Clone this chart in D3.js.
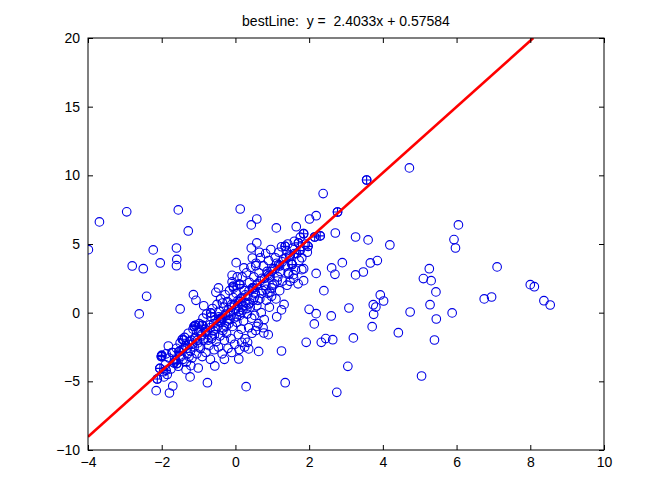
<!DOCTYPE html>
<html><head><meta charset="utf-8">
<script src="https://cdn.jsdelivr.net/npm/d3@7"></script>
<style>
html,body{margin:0;padding:0;background:#fff;}
text{font-family:"Liberation Sans",Arial,sans-serif;white-space:pre;}
</style></head>
<body><svg id="chart" width="672" height="504"></svg>
<script>
const titleText = "bestLine:  y =  2.4033x + 0.57584";
const slope = 2.4033, intercept = 0.57584;
const xTicks = [-4,-2,0,2,4,6,8,10];
const yTicks = [-10,-5,0,5,10,15,20];

// scatter points ('o')
const ptX = [
 -3.69,-2.95,-1.55,0.13,-1.28,0.43,0.58,-3.99,-2.23,-1.60,0.58,0.43,-2.80,-2.50,-2.04,-1.59,-1.60,0.02,0.23,0.46,0.55,-0.09,-0.09,-2.41,-1.14,-0.46,-0.53,
 -1.07,-2.61,-1.50,-1.82,-1.44,-1.53,-2.01,-1.59,-2.05,-2.12,-1.94,-2.15,-1.79,-1.70,-1.23,-1.34,-1.21,-1.01,-0.76,-0.56,0.09,0.29,0.17,0.33,0.10,0.36,0.58,0.63,
 2.38,1.11,1.65,2.01,2.19,2.77,2.71,1.85,2.30,2.15,1.71,1.97,1.75,2.90,2.61,2.70,2.19,1.85,1.80,2.40,2.00,2.19,2.60,2.14,3.08,1.92,2.33,2.45,2.64,1.25,3.05,0.77,0.89,
 4.72,3.56,3.26,3.60,4.19,6.05,5.93,5.97,3.26,3.47,3.66,3.85,5.26,5.10,5.31,5.44,3.93,4.02,3.74,3.81,3.75,4.74,5.28,5.45,5.88,3.71,4.42,5.40,3.20,5.05,
 7.10,6.75,6.95,8.00,8.11,8.37,8.54,1.57,1.48,0.98,2.75,1.35,-2.00,-1.67,-1.08,-0.90,-1.12,-0.67,-0.06,0.12,1.54,1.35,
 -1.95,-1.90,-1.85,-1.80,-1.75,-1.70,-1.65,-1.60,-1.55,-1.50,-1.52,-1.88,
 -1.45,-1.42,-1.38,-1.35,-1.30,-1.28,-1.25,-1.22,-1.18,-1.15,-1.12,-1.10,-1.05,-1.02,-1.00,-1.40,-1.33,-1.20,
 -0.98,-0.95,-0.92,-0.90,-0.88,-0.85,-0.82,-0.80,-0.78,-0.75,-0.72,-0.70,-0.68,-0.65,-0.62,-0.60,-0.58,-0.55,-0.52,-0.50,-0.96,-0.74,-0.66,-0.57,-0.86,
 -0.48,-0.46,-0.44,-0.42,-0.40,-0.38,-0.36,-0.34,-0.32,-0.30,-0.28,-0.26,-0.24,-0.22,-0.20,-0.18,-0.16,-0.14,-0.12,-0.10,-0.08,-0.06,-0.04,-0.02,0.00,-0.45,-0.35,-0.25,-0.15,-0.05,-0.30,-0.10,
 0.02,0.04,0.06,0.08,0.10,0.12,0.14,0.16,0.18,0.20,0.22,0.24,0.26,0.28,0.30,0.32,0.34,0.36,0.38,0.40,0.42,0.44,0.46,0.48,0.50,0.05,0.15,0.25,0.35,0.45,
 0.52,0.54,0.56,0.58,0.60,0.62,0.64,0.66,0.68,0.70,0.72,0.74,0.76,0.78,0.80,0.82,0.84,0.86,0.88,0.90,0.92,0.94,0.96,0.98,0.55,0.75,0.65,
 1.02,1.05,1.08,1.10,1.12,1.15,1.18,1.20,1.22,1.25,1.28,1.30,1.32,1.35,1.38,1.40,1.42,1.45,1.48,1.12,1.25,
 1.52,1.55,1.58,1.60,1.63,1.66,1.70,1.73,1.76,1.80,1.85,1.90,1.95,
 -1.62,-1.48,-1.31,-1.17,-1.03,-0.93,-0.81,-0.69,-0.59,-0.47,-0.37,-0.27,-0.19,-0.11,-0.03,0.07,0.17,0.27,0.37,0.47,0.57,0.67,0.79,0.87,0.97,1.07,1.17,1.27,1.37,1.47,
 -1.72,-1.41,-1.09,-0.77,-0.41,-0.13,0.21,0.51,0.83,1.13,1.43,-0.87,-0.53,-0.21,0.09,0.39,0.71,1.01,-1.26,-0.99,-0.63,-0.33,0.03,0.31,0.61,0.93
];
const ptY = [
 6.61,7.34,7.48,7.55,5.95,6.39,6.82,4.59,4.57,4.71,5.08,4.71,3.40,3.20,3.62,3.88,3.42,3.64,3.26,3.98,3.42,2.72,2.24,1.19,1.31,1.80,1.48,
 0.90,-0.09,0.27,-2.43,-1.94,-2.84,-3.20,-3.71,-4.06,-4.83,-4.68,-5.68,-5.85,-5.34,-4.68,-4.15,-3.86,-4.03,-5.10,-3.88,-3.37,-5.39,-2.16,-2.16,-2.69,-2.64,-1.00,-2.82,
 8.67,6.17,6.26,6.82,7.06,7.33,5.80,5.75,5.59,5.51,5.08,4.83,4.52,3.64,3.26,2.79,2.86,2.33,3.13,1.60,0.24,-0.07,-0.24,-0.82,0.34,-2.16,-2.16,-1.89,-1.97,-2.79,-3.91,-1.48,-1.60,
 10.54,9.66,5.51,5.30,4.93,6.39,5.32,4.71,2.75,2.96,3.62,3.79,3.20,2.48,2.33,1.51,1.29,0.85,0.58,0.41,-0.12,0.05,0.58,-0.46,-0.02,-1.02,-1.46,-1.99,-1.84,-4.61,
 3.33,1.00,1.14,2.04,1.89,0.87,0.56,2.77,2.28,1.19,-5.80,-5.10,-3.11,-3.66,-0.92,-0.92,-1.00,-0.02,1.92,2.04,3.50,4.83,
 -4.3,-3.8,-4.5,-3.3,-4.1,-2.9,-3.4,-2.6,-3.9,-2.2,-3.1,-3.0,
 -2.7,-3.4,-1.8,-2.4,-3.0,-1.5,-2.1,-2.8,-3.3,-1.2,-2.5,-1.9,-3.0,-2.2,-1.4,-2.0,-3.6,-2.0,
 -0.8,-2.6,-1.7,-3.2,-0.4,-2.0,-1.2,-2.9,-0.1,-1.6,-2.4,-0.9,-3.4,-1.9,0.3,-1.3,-2.7,-0.5,-2.1,0.6,-1.3,-2.0,-0.3,-1.6,0.5,
 -1.0,-2.5,0.1,-1.7,1.0,-0.6,-3.0,-1.3,0.4,-2.0,1.3,-0.2,-1.5,0.8,-2.6,-0.8,1.6,0.0,-1.9,0.6,-1.0,1.1,-0.4,-2.3,0.2,-0.3,0.7,-1.0,-0.5,1.8,-3.4,-2.9,
 1.4,-0.7,0.5,-1.6,2.1,-0.2,1.0,-1.2,2.6,0.2,-0.6,1.6,-1.9,0.7,2.9,-0.1,1.2,-1.1,2.2,0.4,3.3,-0.4,1.8,0.9,2.6,2.6,0.0,-2.5,0.6,-1.5,
 -0.2,1.4,3.6,0.5,2.1,-0.8,2.9,1.0,4.0,0.0,2.5,1.6,3.4,-0.5,2.0,4.3,0.9,3.0,1.4,3.8,0.4,2.6,4.6,1.8,-1.3,-1.1,4.4,
 3.2,2.1,4.0,1.0,3.6,2.6,4.4,1.6,3.0,4.8,2.3,3.9,0.6,3.4,4.5,2.0,5.0,2.8,4.1,-0.3,0.2,
 3.6,4.7,2.5,5.2,3.1,4.3,2.1,3.8,5.5,4.0,3.2,5.0,4.4,
 -3.5,-3.2,-2.6,-2.3,-2.0,-1.6,-1.4,-1.1,-0.8,-0.6,-0.4,-0.1,0.2,0.4,0.6,0.9,1.1,1.3,1.6,1.8,2.0,2.3,2.5,2.8,3.0,3.2,3.5,3.7,4.0,4.2,
 -2.9,-2.6,-1.8,-1.3,-0.7,-0.2,0.5,1.1,1.7,2.3,2.9,-1.9,-1.2,-0.6,0.1,0.7,1.4,2.0,-3.2,-2.5,-1.7,-1.1,-0.3,0.3,0.9,1.5
];
// points also marked with '+'
const plusX = [-1.44,-1.53,-2.01,-1.59,-2.05,-2.12,-2.00,-1.67,-1.08,-0.90,-1.12,-0.67,-0.06,0.12,2.77,1.85,2.30,2.15,1.71,1.97,1.75,3.56,1.54,1.35,-1.88,-1.25,-0.40,0.10,0.50,0.90,1.20,1.60];
const plusY = [-1.94,-2.84,-3.20,-3.71,-4.06,-4.83,-3.11,-3.66,-0.92,-0.92,-1.00,-0.02,1.92,2.04,7.33,5.75,5.59,5.51,5.08,4.83,4.52,9.66,3.50,4.83,-4.20,-2.30,-0.40,0.80,1.80,2.70,3.40,4.30];

const W = 672, H = 504;
const m = {left:88, top:38, right:68, bottom:54};
const iw = W - m.left - m.right, ih = H - m.top - m.bottom;
const svg = d3.select("#chart");
svg.append("rect").attr("width",W).attr("height",H).attr("fill","#fff");
const g = svg.append("g").attr("transform",`translate(${m.left},${m.top})`);
const x = d3.scaleLinear().domain([-4,10]).range([0,iw]);
const y = d3.scaleLinear().domain([-10,20]).range([ih,0]);

svg.append("defs").append("clipPath").attr("id","clip")
  .append("rect").attr("width",iw).attr("height",ih);

const plot = g.append("g").attr("clip-path","url(#clip)");
const blue = "#0000e6";
plot.selectAll("circle.pt").data(d3.range(ptX.length)).join("circle")
  .attr("class","pt")
  .attr("cx",i=>x(ptX[i])).attr("cy",i=>y(ptY[i])).attr("r",4.3)
  .attr("fill","none").attr("stroke",blue).attr("stroke-width",1.1);
const pg = plot.selectAll("g.plus").data(d3.range(plusX.length)).join("g")
  .attr("class","plus")
  .attr("transform",i=>`translate(${x(plusX[i])},${y(plusY[i])})`);
pg.append("circle").attr("r",4.3).attr("fill","none").attr("stroke",blue).attr("stroke-width",1.1);
pg.append("path").attr("d","M-4.3,0H4.3M0,-4.3V4.3").attr("stroke",blue).attr("stroke-width",1.1);

// best-fit line
const xEnd = (20 - intercept)/slope;
plot.append("line")
  .attr("x1",x(-4)).attr("y1",y(slope*-4+intercept))
  .attr("x2",x(xEnd)).attr("y2",y(slope*xEnd+intercept))
  .attr("stroke","#ff0000").attr("stroke-width",2.6);

// axes
const fs = "14px";
const xAxisB = d3.axisBottom(x).tickValues(xTicks).tickSize(-5).tickPadding(7).tickFormat(d3.format("d"));
const xAxisT = d3.axisTop(x).tickValues(xTicks).tickSize(-5).tickFormat("");
const yAxisL = d3.axisLeft(y).tickValues(yTicks).tickSize(-5).tickPadding(8).tickFormat(d3.format("d"));
const yAxisR = d3.axisRight(y).tickValues(yTicks).tickSize(-5).tickFormat("");
function style(sel){
  sel.select(".domain").remove();
  sel.selectAll("line").attr("stroke","#000");
  sel.selectAll("text").attr("fill","#000").style("font-size",fs);
}
g.append("g").attr("transform",`translate(0,${ih})`).call(xAxisB).call(style);
g.append("g").call(xAxisT).call(style);
g.append("g").call(yAxisL).call(style);
g.append("g").attr("transform",`translate(${iw},0)`).call(yAxisR).call(style);
g.append("rect").attr("width",iw).attr("height",ih).attr("fill","none").attr("stroke","#000").attr("stroke-width",1);

svg.append("text").attr("x",m.left+iw/2).attr("y",26).attr("text-anchor","middle")
  .style("font-size",fs).attr("fill","#000").text(titleText);
</script></body></html>
